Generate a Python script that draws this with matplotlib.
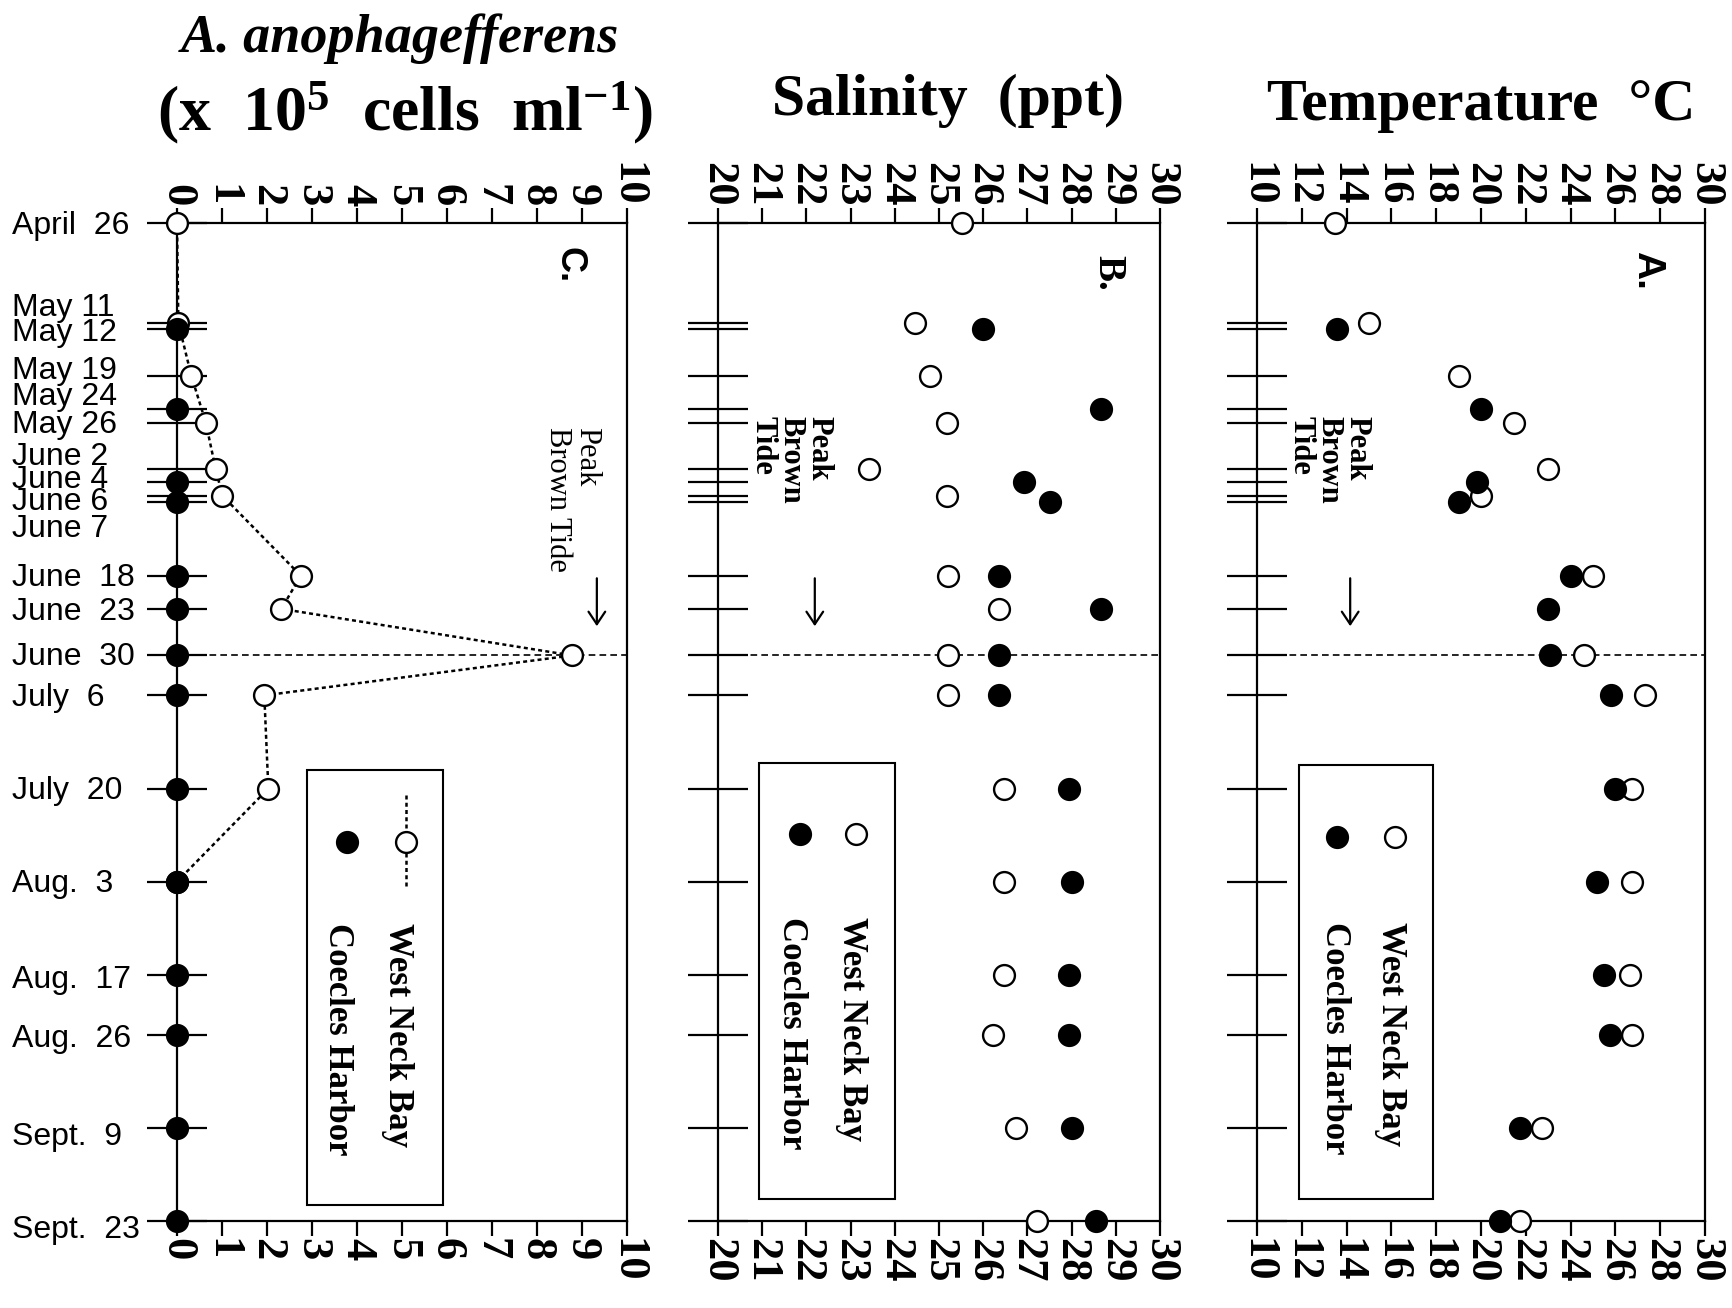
import datetime
import numpy as np
import matplotlib
matplotlib.use("Agg")
import matplotlib.pyplot as plt
from matplotlib.patches import Rectangle
from matplotlib.transforms import blended_transform_factory

plt.rcParams['font.family'] = ['Liberation Serif', 'DejaVu Serif']
plt.rcParams['mathtext.fontset'] = 'custom'
plt.rcParams['mathtext.rm'] = 'Liberation Serif:bold'
plt.rcParams['mathtext.bf'] = 'Liberation Serif:bold'
plt.rcParams['mathtext.it'] = 'Liberation Serif:bold:italic'
plt.rcParams['mathtext.default'] = 'bf'

# ---------------- data ----------------
tick_dates = [(4, 26), (5, 11), (5, 12), (5, 19), (5, 24), (5, 26), (6, 2), (6, 4),
              (6, 6), (6, 7), (6, 18), (6, 23), (6, 30), (7, 6), (7, 20), (8, 3),
              (8, 17), (8, 26), (9, 9), (9, 23)]
tick_labels = ["April  26", "May 11", "May 12", "May 19", "May 24", "May 26", "June 2",
               "June 4", "June 6", "June 7", "June  18", "June  23", "June  30",
               "July  6", "July  20", "Aug.  3", "Aug.  17", "Aug.  26", "Sept.  9",
               "Sept.  23"]
peak_date = (6, 30)

wnb_dates = [(4, 26), (5, 11), (5, 19), (5, 26), (6, 2), (6, 6), (6, 18), (6, 23),
             (6, 30), (7, 6), (7, 20), (8, 3), (8, 17), (8, 26), (9, 9), (9, 23)]
ch_dates = [(5, 12), (5, 24), (6, 4), (6, 7), (6, 18), (6, 23), (6, 30), (7, 6),
            (7, 20), (8, 3), (8, 17), (8, 26), (9, 9), (9, 23)]

nan = np.nan
cells_wnb = [0.0, 0.03, 0.32, 0.64, 0.86, 1.01, 2.75, 2.32, 8.78, 1.94, 2.03, 0.0,
             nan, nan, nan, nan]
cells_ch = [0.0] * 14

sal_wnb = [25.52, 24.45, 24.8, 25.17, 23.42, 25.18, 25.2, 26.36, 25.2, 25.2, 26.48,
           26.48, 26.47, 26.22, 26.74, 27.22]
sal_ch = [26.0, 28.66, 26.93, 27.51, 26.36, 28.67, 26.36, 26.36, 27.95, 28.0, 27.95,
          27.95, 28.0, 28.55]

temp_wnb = [13.47, 14.98, 19.0, 21.47, 22.98, 19.99, 25.0, nan, 24.6, 27.3, 26.74,
            26.74, 26.67, 26.74, 22.73, 21.74]
temp_ch = [13.55, 20.0, 19.84, 19.0, 24.0, 22.98, 23.1, 25.8, 26.0, 25.2, 25.5, 25.76,
           21.74, 20.83]

cell_ticks = list(range(0, 11))
sal_ticks = list(range(20, 31))
temp_ticks = list(range(10, 31, 2))

# layout-only: small vertical shifts (days) of crowded date labels
label_shift = [0.4, -2.2, 0.5, -0.8, -1.8, 0.4, -1.9, -0.4, 0.9, 4.0, 0.4, 0.4, 0.3,
               0.4, 0.3, 0.3, 0.8, 0.7, 1.3, 1.3]


def doy(md):
    return datetime.date(1995, md[0], md[1]).timetuple().tm_yday


W, H = 1733, 1308
fig = plt.figure(figsize=(W / 100, H / 100), dpi=100)


def fx(px):
    return px / W


def fy(py):
    return 1 - py / H


top_px, bot_px = 223, 1221
panels = {
    'C': (177, 627),
    'B': (718, 1160),
    'A': (1257, 1705),
}
axes = {}
for k, (x0, x1) in panels.items():
    axes[k] = fig.add_axes([fx(x0), fy(bot_px), fx(x1 - x0), (bot_px - top_px) / H])

LW = 1.6
ytick_pos = [doy(d) for d in tick_dates]


def setup(ax, xlim, xticks):
    ax.set_xlim(*xlim)
    ax.set_ylim(doy(tick_dates[-1]), doy(tick_dates[0]))
    for s in ax.spines.values():
        s.set_linewidth(LW)
    ax.set_xticks(xticks)
    ax.set_xticklabels([str(t) for t in xticks], fontsize=32, fontweight='bold',
                       rotation=270)
    ax.tick_params(axis='x', top=True, bottom=True, labeltop=True, labelbottom=True,
                   direction='out', length=11, width=LW, pad=1)
    ax.set_yticks(ytick_pos)
    ax.set_yticklabels([])
    ax.tick_params(axis='y', left=True, right=False, direction='inout', length=43,
                   width=LW, labelleft=False)
    ax.axhline(doy(peak_date), color='k', lw=1.2, ls=(0, (4, 2.5)), zorder=1)


setup(axes['C'], (0, 10), cell_ticks)
setup(axes['B'], (20, 30), sal_ticks)
setup(axes['A'], (10, 30), temp_ticks)

wnb_y = [doy(d) for d in wnb_dates]
ch_y = [doy(d) for d in ch_dates]
MS = 15
open_kw = dict(marker='o', mfc='white', mec='k', ms=MS, mew=1.7, clip_on=False)
fill_kw = dict(marker='o', mfc='k', mec='k', ms=MS, mew=1.7, clip_on=False, ls='none')

# Panel C
axC = axes['C']
axC.plot(cells_wnb, wnb_y, color='k', lw=1.8, ls=(0, (1.6, 1.3)), zorder=3, **open_kw)
axC.plot(cells_ch, ch_y, zorder=4, **fill_kw)
# Panel B
axes['B'].plot(sal_wnb, wnb_y, ls='none', zorder=3, **open_kw)
axes['B'].plot(sal_ch, ch_y, zorder=4, **fill_kw)
# Panel A
axes['A'].plot(temp_wnb, wnb_y, ls='none', zorder=3, **open_kw)
axes['A'].plot(temp_ch, ch_y, zorder=4, **fill_kw)

# date labels
trC = blended_transform_factory(axC.transAxes, axC.transData)
for lab, d, sh in zip(tick_labels, tick_dates, label_shift):
    axC.text(-0.366, doy(d) + sh, lab, transform=trC, ha='left', va='center',
             fontsize=23, family=['Liberation Sans', 'DejaVu Sans'], clip_on=False)

# panel letters
axC.text(0.871, 0.958, "C.", transform=axC.transAxes, rotation=270, ha='center',
         va='center', fontsize=26, fontweight='bold',
         family=['Liberation Sans', 'DejaVu Sans'])
axes['B'].text(0.882, 0.95, "B.", transform=axes['B'].transAxes, rotation=270,
               ha='center', va='center', fontsize=28, fontweight='bold')
axes['A'].text(0.87, 0.952, "A.", transform=axes['A'].transAxes, rotation=270,
               ha='center', va='center', fontsize=28, fontweight='bold',
               family=['Liberation Sans', 'DejaVu Sans'])

# Peak brown tide annotations
axC.text(0.878, 0.796, "Peak\nBrown Tide", transform=axC.transAxes, rotation=270,
         ha='center', va='top', multialignment='left', fontsize=22, linespacing=1.0)
for k, xt in (('B', 0.165), ('A', 0.161)):
    axes[k].text(xt, 0.807, "Peak\nBrown\nTide", transform=axes[k].transAxes,
                 rotation=270, ha='center', va='top', multialignment='left',
                 fontsize=22, fontweight='bold', linespacing=0.95)
for k, xa in (('C', 0.933), ('B', 0.219), ('A', 0.208)):
    axes[k].annotate("", xy=(xa, 0.596), xytext=(xa, 0.644),
                     xycoords='axes fraction', textcoords='axes fraction',
                     arrowprops=dict(arrowstyle='->,head_length=0.9,head_width=0.6',
                                     lw=1.6, color='k', shrinkA=0, shrinkB=0))

# legends (drawn manually, rotated text)
leg_specs = {
    'C': dict(box=(0.289, 0.016, 0.302, 0.436), ym=0.38, xf=0.378, xo=0.509,
              xt_w=0.491, xt_c=0.356, yt=0.299, line=True),
    'B': dict(box=(0.093, 0.022, 0.307, 0.437), ym=0.388, xf=0.186, xo=0.313,
              xt_w=0.301, xt_c=0.167, yt=0.305, line=False),
    'A': dict(box=(0.094, 0.022, 0.299, 0.435), ym=0.385, xf=0.179, xo=0.308,
              xt_w=0.297, xt_c=0.172, yt=0.30, line=False),
}
for k, s in leg_specs.items():
    ax = axes[k]
    bx, by, bw, bh = s['box']
    ax.add_patch(Rectangle((bx, by), bw, bh, fill=False, lw=1.5, ec='k',
                           transform=ax.transAxes, zorder=5))
    if s['line']:
        ax.plot([s['xo'], s['xo']], [s['ym'] + 0.047, s['ym'] - 0.047], color='k',
                lw=1.8, ls=(0, (1.6, 1.3)), transform=ax.transAxes, zorder=5)
    ax.plot([s['xo']], [s['ym']], transform=ax.transAxes, zorder=6, **open_kw)
    ax.plot([s['xf']], [s['ym']], transform=ax.transAxes, zorder=6, **fill_kw)
    ax.text(s['xt_w'], s['yt'], "West Neck Bay", transform=ax.transAxes, rotation=270,
            ha='center', va='top', fontsize=25, fontweight='bold', zorder=6)
    ax.text(s['xt_c'], s['yt'], "Coecles Harbor", transform=ax.transAxes, rotation=270,
            ha='center', va='top', fontsize=25, fontweight='bold', zorder=6)

# titles
fig.text(fx(400), fy(39), "A. anophagefferens", ha='center', va='center',
         fontsize=39, fontweight='bold', style='italic')
fig.text(fx(405), fy(113), r"(x  10$^{\mathbf{5}}$  cells  ml$^{\mathbf{-1}}$)",
         ha='center', va='center', fontsize=46, fontweight='bold')
fig.text(fx(948), fy(101), "Salinity  (ppt)", ha='center', va='center', fontsize=43,
         fontweight='bold')
fig.text(fx(1481), fy(106), "Temperature  °C", ha='center', va='center',
         fontsize=43, fontweight='bold')

fig.savefig("out.png", dpi=100, facecolor='white')
